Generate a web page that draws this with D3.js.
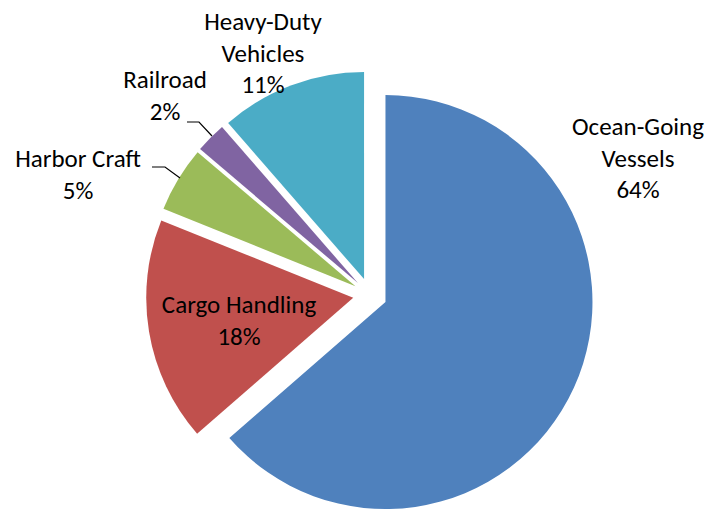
<!DOCTYPE html>
<html>
<head>
<meta charset="utf-8">
<script src="https://cdn.jsdelivr.net/npm/d3@7"></script>
<style>
  html, body { margin: 0; padding: 0; background: #fff; }
  #chart { width: 712px; height: 510px; }
  text { font-family: Carlito, Calibri, Lato, "Open Sans", sans-serif; fill: #000; }
</style>
</head>
<body>
<div id="chart"></div>
<script>
/*
 *  DATA
 */
var categories = ["Ocean-Going Vessels", "Cargo Handling", "Harbor Craft", "Railroad", "Heavy-Duty Vehicles"];
var shares = [63.6, 17.5, 5.1, 2.4, 11.4];
var colors = ["#4F81BD", "#C0504D", "#9BBB59", "#8064A2", "#4BACC6"];

// label rows for the category name, the percentage is added below
var nameLines = [
    ["Ocean-Going", "Vessels"],
    ["Cargo Handling"],
    ["Harbor Craft"],
    ["Railroad"],
    ["Heavy-Duty", "Vehicles"]
];

/*
 *  LAYOUT
 */
var view_width = 712;
var view_height = 510;
var cx = 370, cy = 295;
var radius = 207;
var explode = 17;
var lineHeight = 31.5;

// where each label block starts (center x, first baseline) and its leader line
var labelPos = [
    {x: 638, y: 135},
    {x: 239, y: 313},
    {x: 78,  y: 167, leader: [[152, 167], [165, 167], [180, 178]]},
    {x: 165, y: 88,  leader: [[187, 122], [199, 122], [212, 136]]},
    {x: 263, y: 30}
];

var formatPct = d3.format(".0f");

var svg = d3.select('#chart')
    .append('svg')
        .attr('width', view_width)
        .attr('height', view_height);

svg.append('rect')
    .attr('width', view_width)
    .attr('height', view_height)
    .attr('fill', '#fff');

var pie = d3.pie()
    .sort(null)
    .value(function(d) { return d; });

var arc = d3.arc()
    .innerRadius(0)
    .outerRadius(radius);

var slices = pie(shares);
var total = d3.sum(shares);

var g = svg.append('g')
    .attr('transform', 'translate(' + cx + ',' + cy + ')');

g.selectAll('.slice')
    .data(slices)
    .enter()
    .append('path')
        .attr('class', 'slice')
        .attr('fill', function(d, i) { return colors[i]; })
        .attr('transform', function(d) {
            var a = (d.startAngle + d.endAngle) / 2;
            return 'translate(' + (explode * Math.sin(a)) + ',' + (-explode * Math.cos(a)) + ')';
        })
        .attr('d', arc);

// leader lines
svg.selectAll('.leader')
    .data(labelPos.filter(function(p) { return p.leader; }))
    .enter()
    .append('path')
        .attr('class', 'leader')
        .attr('fill', 'none')
        .attr('stroke', '#000')
        .attr('stroke-width', 1.2)
        .attr('d', function(p) { return d3.line()(p.leader); });

// labels
var labels = svg.selectAll('.label')
    .data(categories)
    .enter()
    .append('text')
        .attr('class', 'label')
        .attr('text-anchor', 'middle')
        .style('font-size', '25px');

labels.each(function(d, i) {
    var t = d3.select(this);
    var rows = nameLines[i].concat([formatPct(shares[i] / total * 100) + '%']);
    rows.forEach(function(line, j) {
        t.append('tspan')
            .attr('x', labelPos[i].x)
            .attr('y', labelPos[i].y + j * lineHeight)
            .text(line);
    });
});
</script>
</body>
</html>
